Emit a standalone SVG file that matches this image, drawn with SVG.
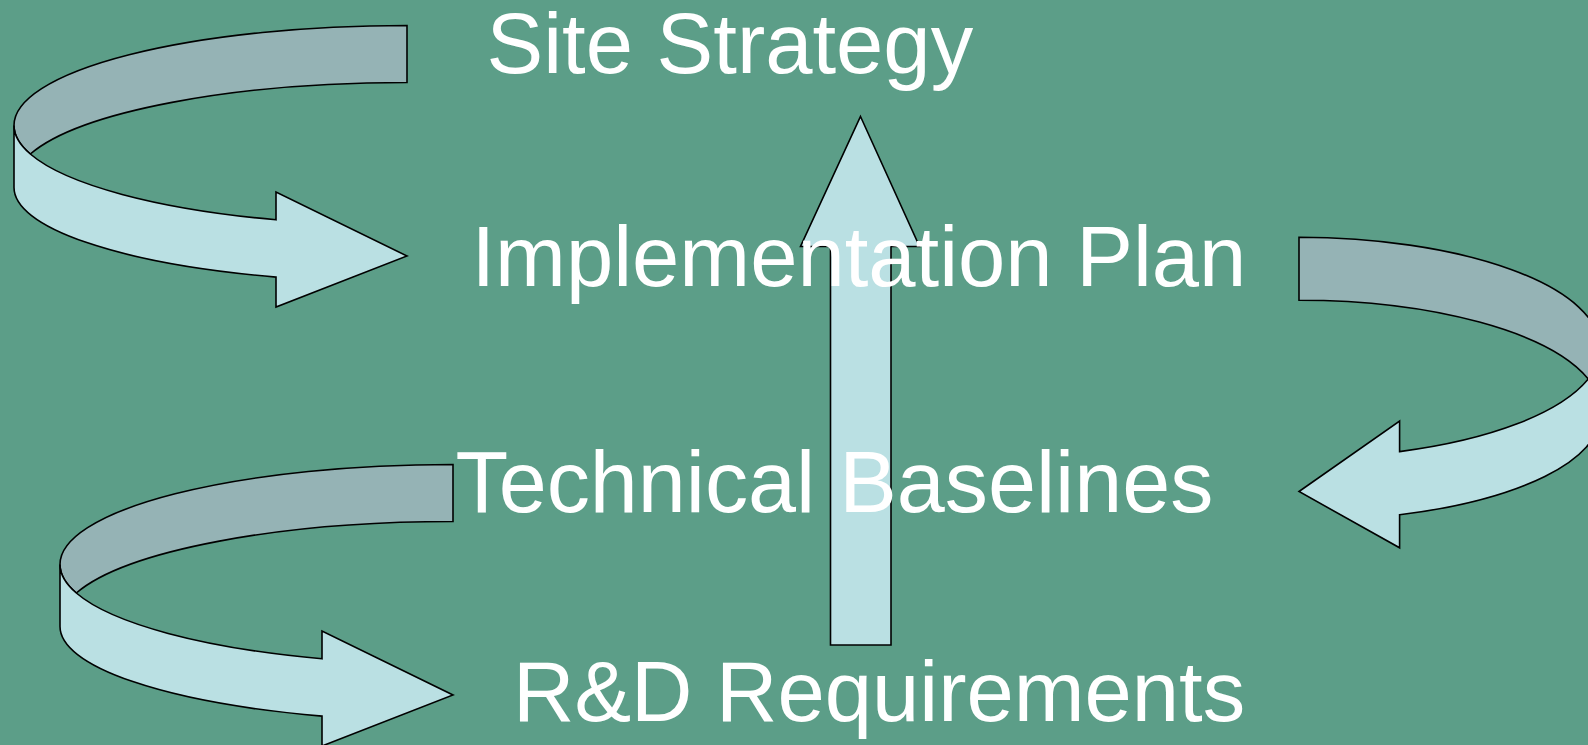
<svg xmlns="http://www.w3.org/2000/svg" xmlns:xlink="http://www.w3.org/1999/xlink" width="1588" height="745" viewBox="0 0 1588 745">
  <style>
    .band-dark { fill: #95B3B5; stroke: #000; stroke-width: 1.6; stroke-linejoin: miter; }
    .band-light { fill: #BAE0E3; stroke: #000; stroke-width: 1.6; stroke-linejoin: miter; }
    .label { font-family: "Liberation Sans", Arial, sans-serif; font-size: 85px; fill: #FFFFFF; }
  </style>
  <defs>
    <g id="curl-left">
      <path class="band-dark" d="M407,25.5 A393,100 0 0 0 14,125.5 A393,100 0 0 0 30.3,154 A393,100 0 0 1 407,82.5 Z"/>
      <path class="band-light" d="M14,125.5 L14,187.5 A393,95 0 0 0 276,277.1 L276,307 L407,256 L276,192 L276,219.8 A393,100 0 0 1 30.3,154 A393,100 0 0 1 14,125.5 Z"/>
    </g>
  </defs>
  <rect x="0" y="0" width="1588" height="745" fill="#5C9E88"/>

  <g id="connectors">
    <g id="curl-top-left">
      <use xlink:href="#curl-left" href="#curl-left"/>
    </g>
    <g id="curl-bottom-left">
      <use xlink:href="#curl-left" href="#curl-left" transform="translate(46,439)"/>
    </g>
    <g id="curl-right">
      <path class="band-dark" d="M1299,237.3 A301.8,110.3 0 0 1 1599.8,347.6 A301.8,110.3 0 0 1 1588.3,379 A301.8,110.3 0 0 0 1299,300.2 Z"/>
      <path class="band-light" d="M1599.8,347.6 L1599.8,416 A301.8,104.8 0 0 1 1399.6,514.8 L1399.6,547.8 L1299,491.5 L1399.6,421 L1399.6,451.6 A301.8,110.3 0 0 0 1588.3,379 A301.8,110.3 0 0 0 1599.8,347.6 Z"/>
    </g>
    <g id="arrow-up">
      <path class="band-light" d="M860.5,116.5 L919.5,246.5 L891,246.5 L891,645 L830.5,645 L830.5,246.5 L800.5,246.5 Z"/>
    </g>
  </g>

  <g id="node-site-strategy">
    <text class="label" x="486.5" y="72.7">Site Strategy</text>
  </g>
  <g id="node-implementation-plan">
    <text class="label" x="471.5" y="286">Implementation Plan</text>
  </g>
  <g id="node-technical-baselines">
    <text class="label" x="455.5" y="512" style="font-size:86.3px">Technical Baselines</text>
  </g>
  <g id="node-rd-requirements">
    <text class="label" x="513" y="721">R&amp;D Requirements</text>
  </g>
</svg>
